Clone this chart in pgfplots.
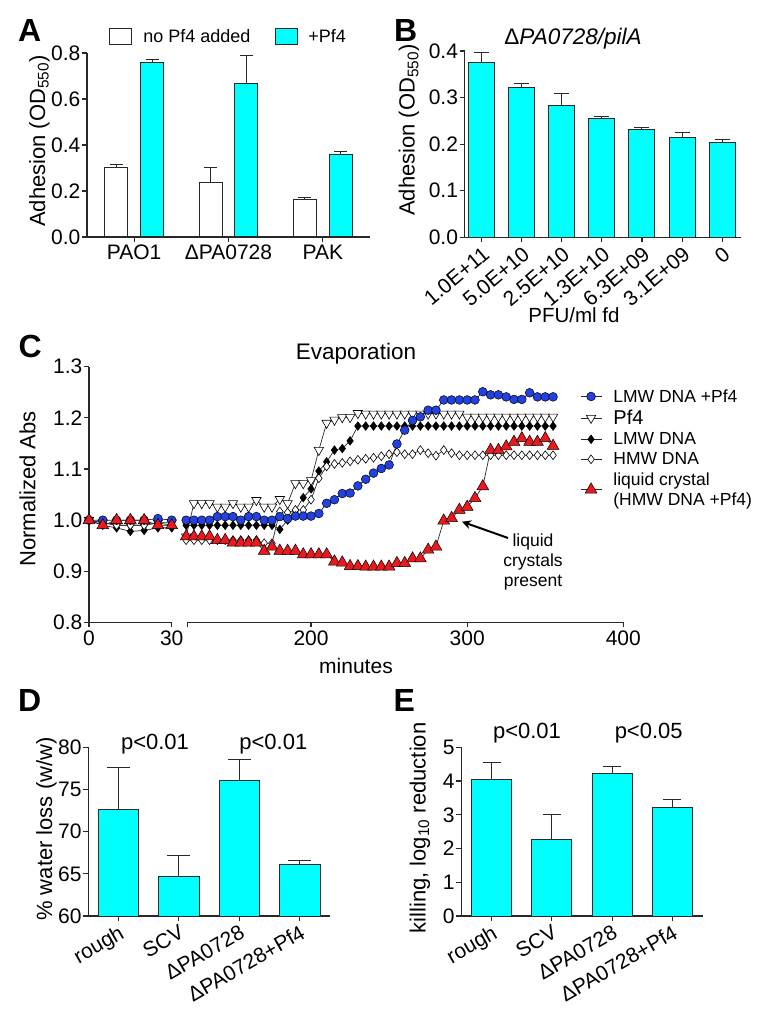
\documentclass[border=0pt]{standalone}
\usepackage{fontspec}
\setmainfont{Liberation Sans}
\usepackage{pgfplots}
\pgfplotsset{compat=1.18}
\usetikzlibrary{arrows.meta}

\definecolor{barcyan}{RGB}{0,255,255}
\definecolor{dotblue}{RGB}{35,65,225}
\definecolor{trired}{RGB}{235,25,30}
\definecolor{edge}{RGB}{40,40,40}
\newcommand{\fs}[2]{\fontsize{#1}{#2}\selectfont}

\pgfplotsset{
  panel/.style={
    scale only axis, anchor=south west,
    axis lines=left, axis line style={-, line width=1.1pt, draw=edge},
    tick align=outside, major tick length=5pt,
    tick style={line width=1.1pt, draw=edge},
    tick label style={font=\fs{21pt}{24pt}},
    yticklabel style={inner sep=1.5pt},
    xticklabel style={inner sep=3pt},
  },
  bars/.style={ybar, fill=barcyan, draw=edge, line width=1pt},
  errs/.style={
    error bars/y dir=plus, error bars/y explicit,
    error bars/error bar style={line width=1pt, draw=edge},
    error bars/error mark options={rotate=90, line width=1pt, draw=edge, mark size=#1},
  },
  sBlue/.style={draw=edge, line width=0.7pt, mark=*, mark size=4.4pt,
    mark options={fill=dotblue, draw=black, line width=0.5pt}},
  sPf/.style={draw=edge, line width=0.7pt, mark=triangle*, mark size=5.4pt,
    mark options={rotate=180, fill=white, draw=black, line width=0.6pt}},
  sLMW/.style={draw=edge, line width=0.7pt, mark=diamond*, mark size=4.4pt,
    mark options={fill=black, draw=black, line width=0.4pt}},
  sHMW/.style={draw=edge, line width=0.7pt, mark=diamond*, mark size=4.4pt,
    mark options={fill=white, draw=black, line width=0.6pt}},
  sRed/.style={draw=edge, line width=0.7pt, mark=triangle*, mark size=6.8pt,
    mark options={fill=trired, draw=black, line width=0.5pt}},
}

\begin{document}
\begin{tikzpicture}
\useasboundingbox (0pt,0pt) rectangle (766pt,1009pt);

% ---------- A  (bars sit at group centre -/+ 0.19)
\begin{axis}[panel, at={(87pt,772pt)}, width=283pt, height=184pt,
  xmin=-0.5, xmax=2.5, ymin=0, ymax=0.8,
  xtick={0,1,2}, xticklabels={PAO1,ΔPA0728,PAK},
  ytick={0,0.2,0.4,0.6,0.8}, yticklabels={0.0,0.2,0.4,0.6,0.8},
  legend columns=2,
  legend style={at={(axis description cs:0.078,1.087)}, anchor=west,
    draw=none, fill=none, inner sep=0pt, column sep=0pt,
    font=\fs{18pt}{22pt}, nodes={inner sep=0pt}},
  legend image code/.code={\draw[#1] (0pt,-8pt) rectangle (22pt,8pt);},
]
\addplot[bars, fill=white, bar width=23pt, bar shift=0pt, errs=6.5pt]
  coordinates {(-0.19,0.303) +- (0,0.013) (0.81,0.239) +- (0,0.062) (1.81,0.161) +- (0,0.010)};
\addlegendentry{\hspace*{11pt}no Pf4 added\hspace*{25pt}}
\addplot[bars, bar width=23pt, bar shift=0pt, errs=6.5pt]
  coordinates {(0.19,0.760) +- (0,0.010) (1.19,0.668) +- (0,0.120) (2.19,0.357) +- (0,0.013)};
\addlegendentry{\hspace*{10pt}+Pf4}
\end{axis}

% ---------- B
\begin{axis}[panel, at={(464.7pt,771.7pt)}, width=276.3pt, height=186.3pt,
  xmin=-0.42, xmax=6.47, ymin=0, ymax=0.4,
  xtick={0,1,2,3,4,5,6},
  xticklabels={1.0E+11,5.0E+10,2.5E+10,1.3E+10,6.3E+09,3.1E+09,0},
  xticklabel style={rotate=40, anchor=north east, inner sep=2pt},
  ytick={0,0.1,0.2,0.3,0.4}, yticklabels={0.0,0.1,0.2,0.3,0.4},
]
\addplot[bars, bar width=26pt, errs=7.5pt] coordinates {
  (0,0.376) +- (0,0.021) (1,0.321) +- (0,0.010) (2,0.282) +- (0,0.027)
  (3,0.2555) +- (0,0.0035) (4,0.231) +- (0,0.005) (5,0.215) +- (0,0.0095)
  (6,0.203) +- (0,0.006)};
\end{axis}

% ---------- C, left part of the broken axis
\begin{axis}[panel, at={(89pt,386.5pt)}, width=82.7pt, height=255.8pt,
  xmin=0, xmax=30, ymin=0.8, ymax=1.3, clip=false,
  xtick={0,30}, xticklabels={0,30},
  ytick={0.8,0.9,1.0,1.1,1.2,1.3}, yticklabels={0.8,0.9,1.0,1.1,1.2,1.3},
]
\addplot[sPf] coordinates {(0,1.0) (5,0.995) (10,0.99) (15,0.99) (20,0.99) (25,0.995) (30,0.995)};
\addplot[sLMW] coordinates {(0,1.0) (5,0.99) (10,0.985) (15,0.978) (20,0.98) (25,0.985) (30,0.985)};
\addplot[sHMW] coordinates {(0,1.0) (5,0.995) (10,0.99) (15,0.99) (20,0.99) (25,0.995) (30,0.99)};
\addplot[sBlue] coordinates {(0,1.0) (5,1.0) (10,1.0) (15,1.0) (20,1.0) (25,1.003) (30,1.0)};
\addplot[sRed] coordinates {(0,1.0) (5,0.99) (10,1.0) (15,1.0) (20,1.0) (25,0.99) (30,0.99)};
\end{axis}

% ---------- C, right part of the broken axis
\begin{axis}[panel, axis y line=none, at={(187.7pt,386.5pt)}, width=435.6pt, height=255.8pt,
  xmin=121, xmax=400, ymin=0.8, ymax=1.3, clip=false,
  xtick={121,200,300,400}, xticklabels={,200,300,400}, ytick=\empty,
  legend cell align=left,
  legend style={at={(axis description cs:0.9006,0.914)}, anchor=north west,
    draw=none, fill=none, inner sep=0pt, row sep=5.5pt, column sep=0pt,
    font=\fs{17.5pt}{20pt}, nodes={inner sep=0.5pt, align=left}},
  legend image code/.code={\draw[mark repeat=2, mark phase=2, #1]
    plot coordinates {(0pt,0pt) (10.5pt,0pt) (21pt,0pt)};},
]
\addlegendimage{sBlue}\addlegendentry{\hspace*{11pt}LMW DNA +Pf4}
\addlegendimage{sPf}\addlegendentry{\hspace*{11pt}\fs{20pt}{20pt}Pf4}
\addlegendimage{sLMW}\addlegendentry{\hspace*{11pt}LMW DNA}
\addlegendimage{sHMW}\addlegendentry{\hspace*{11pt}HMW DNA}
\addlegendimage{sRed}\addlegendentry{\hspace*{11pt}liquid crystal\\\hspace*{11pt}(HMW DNA +Pf4)}

\addplot[sPf, forget plot] table {
120 0.968
125 1.033
130 1.033
135 1.033
140 1.026
145 1.026
150 1.033
155 1.026
160 1.026
165 1.039
170 1.026
175 1.026
180 1.041
185 1.033
190 1.072
195 1.072
200 1.078
205 1.137
210 1.190
215 1.196
220 1.201
225 1.201
230 1.209
235 1.208
240 1.208
245 1.208
250 1.208
255 1.208
260 1.208
265 1.208
270 1.208
275 1.208
280 1.208
285 1.208
290 1.208
295 1.208
300 1.202
305 1.202
310 1.202
315 1.202
320 1.202
325 1.202
330 1.202
335 1.202
340 1.202
345 1.202
350 1.202
355 1.202
};
\addplot[sLMW, forget plot] table {
120 0.990
125 0.990
130 0.990
135 0.990
140 0.990
145 0.990
150 0.990
155 0.990
160 0.990
165 0.990
170 0.990
175 0.990
180 0.982
185 1.000
190 1.019
195 1.044
200 1.061
205 1.096
210 1.114
215 1.137
220 1.140
225 1.155
230 1.184
235 1.184
240 1.184
245 1.184
250 1.184
255 1.184
260 1.184
265 1.184
270 1.184
275 1.184
280 1.184
285 1.184
290 1.184
295 1.184
300 1.184
305 1.184
310 1.184
315 1.184
320 1.184
325 1.184
330 1.184
335 1.184
340 1.184
345 1.184
350 1.184
355 1.184
};
\addplot[sHMW, forget plot] table {
120 0.961
125 0.961
130 0.961
135 0.961
140 0.961
145 0.961
150 0.961
155 0.961
160 0.961
165 0.961
170 0.955
175 0.955
180 1.017
185 1.015
190 1.020
195 1.020
200 1.040
205 1.082
210 1.105
215 1.110
220 1.112
225 1.115
230 1.118
235 1.120
240 1.122
245 1.125
250 1.129
255 1.133
260 1.129
265 1.129
270 1.137
275 1.131
280 1.126
285 1.137
290 1.131
295 1.127
300 1.127
305 1.127
310 1.127
315 1.127
320 1.127
325 1.127
330 1.127
335 1.127
340 1.127
345 1.127
350 1.127
355 1.127
};
\addplot[sBlue, forget plot] table {
120 1.000
125 1.000
130 1.000
135 1.000
140 1.007
145 1.007
150 1.007
155 1.000
160 1.007
165 1.007
170 1.000
175 1.000
180 1.007
185 1.003
190 1.008
195 1.008
200 1.008
205 1.013
210 1.033
215 1.040
220 1.052
225 1.053
230 1.067
235 1.080
240 1.092
245 1.101
250 1.108
255 1.149
260 1.176
265 1.195
270 1.202
275 1.215
280 1.215
285 1.235
290 1.235
295 1.235
300 1.235
305 1.235
310 1.251
315 1.245
320 1.245
325 1.241
330 1.236
335 1.236
340 1.249
345 1.241
350 1.241
355 1.241
};
\addplot[sRed, forget plot] table {
120 0.968
125 0.968
130 0.968
135 0.968
140 0.961
145 0.961
150 0.956
155 0.956
160 0.956
165 0.956
170 0.940
175 0.948
180 0.940
185 0.940
190 0.940
195 0.933
200 0.933
205 0.933
210 0.933
215 0.919
220 0.917
225 0.910
230 0.910
235 0.909
240 0.909
245 0.909
250 0.909
255 0.916
260 0.916
265 0.925
270 0.925
275 0.942
280 0.948
285 0.999
290 1.004
295 1.020
300 1.026
305 1.043
310 1.066
315 1.137
320 1.137
325 1.144
330 1.153
335 1.160
340 1.153
345 1.153
350 1.160
355 1.145
};
\end{axis}

% ---------- D
\begin{axis}[panel, at={(88.3pt,93pt)}, width=241.7pt, height=168.7pt,
  xmin=-0.5, xmax=3.5, ymin=60, ymax=80,
  xtick={0,1,2,3}, xticklabels={rough,SCV,ΔPA0728,ΔPA0728+Pf4},
  xticklabel style={rotate=30, anchor=north east, inner sep=2pt},
  ytick={60,65,70,75,80}, yticklabels={60,65,70,75,80},
]
\addplot[bars, bar width=40.7pt, errs=11.5pt] coordinates {
  (0,72.64) +- (0,4.93) (1,64.74) +- (0,2.41) (2,76.03) +- (0,2.54) (3,66.13) +- (0,0.47)};
\end{axis}

% ---------- E
\begin{axis}[panel, at={(461.3pt,93pt)}, width=241.7pt, height=168.7pt,
  xmin=-0.505, xmax=3.51, ymin=0, ymax=5,
  xtick={0,1,2,3}, xticklabels={rough,SCV,ΔPA0728,ΔPA0728+Pf4},
  xticklabel style={rotate=30, anchor=north east, inner sep=2pt},
  ytick={0,1,2,3,4,5}, yticklabels={0,1,2,3,4,5},
]
\addplot[bars, bar width=40pt, errs=9pt] coordinates {
  (0,4.05) +- (0,0.495) (1,2.253) +- (0,0.741) (2,4.23) +- (0,0.197) (3,3.21) +- (0,0.238)};
\end{axis}

% ---------- panel letters, titles, axis labels, notes
\begin{scope}[every node/.style={inner sep=0pt}]
\node[font=\fs{32pt}{36pt}\bfseries, anchor=base west] at (18pt,967pt) {A};
\node[font=\fs{32pt}{36pt}\bfseries, anchor=base west] at (394pt,967pt) {B};
\node[font=\fs{32pt}{36pt}\bfseries, anchor=base west] at (18.5pt,651.5pt) {C};
\node[font=\fs{32pt}{36pt}\bfseries, anchor=base west] at (18pt,297.3pt) {D};
\node[font=\fs{32pt}{36pt}\bfseries, anchor=base west] at (393.5pt,297.3pt) {E};

\node[font=\fs{22pt}{26pt}, rotate=90, anchor=base] at (45pt,868pt) {Adhesion (OD\textsubscript{550})};
\node[font=\fs{22pt}{26pt}, rotate=90, anchor=base] at (414.7pt,879pt) {Adhesion (OD\textsubscript{550})};
\node[font=\fs{22.5pt}{26pt}, anchor=base] at (573pt,964pt) {Δ\textit{PA0728/pilA}};
\node[font=\fs{20.5pt}{24pt}, anchor=base] at (574pt,686.3pt) {PFU/ml fd};

\node[font=\fs{22.5pt}{26pt}, anchor=base] at (356pt,649pt) {Evaporation};
\node[font=\fs{22pt}{26pt}, rotate=90, anchor=base] at (35.5pt,520pt) {Normalized Abs};
\node[font=\fs{21pt}{24pt}, anchor=base] at (356pt,335.5pt) {minutes};
\node[font=\fs{17.5pt}{20pt}, anchor=base] at (533pt,462pt) {liquid};
\node[font=\fs{17.5pt}{20pt}, anchor=base] at (533pt,442pt) {crystals};
\node[font=\fs{17.5pt}{20pt}, anchor=base] at (533pt,422.3pt) {present};
\draw[-{Stealth[length=9pt,width=9pt]}, line width=2pt] (508pt,471pt) -- (462pt,487.3pt);

\node[font=\fs{22pt}{26pt}, rotate=90, anchor=base] at (52pt,180pt) {\% water loss (w/w)};
\node[font=\fs{22pt}{26pt}, anchor=base] at (155pt,259.7pt) {p<0.01};
\node[font=\fs{22pt}{26pt}, anchor=base] at (273.3pt,259.7pt) {p<0.01};

\node[font=\fs{22pt}{26pt}, rotate=90, anchor=base] at (425.5pt,181pt) {killing, log\textsubscript{10} reduction};
\node[font=\fs{22pt}{26pt}, anchor=base] at (527pt,270.7pt) {p<0.01};
\node[font=\fs{22pt}{26pt}, anchor=base] at (648.7pt,270.7pt) {p<0.05};
\end{scope}
\end{tikzpicture}
\end{document}
